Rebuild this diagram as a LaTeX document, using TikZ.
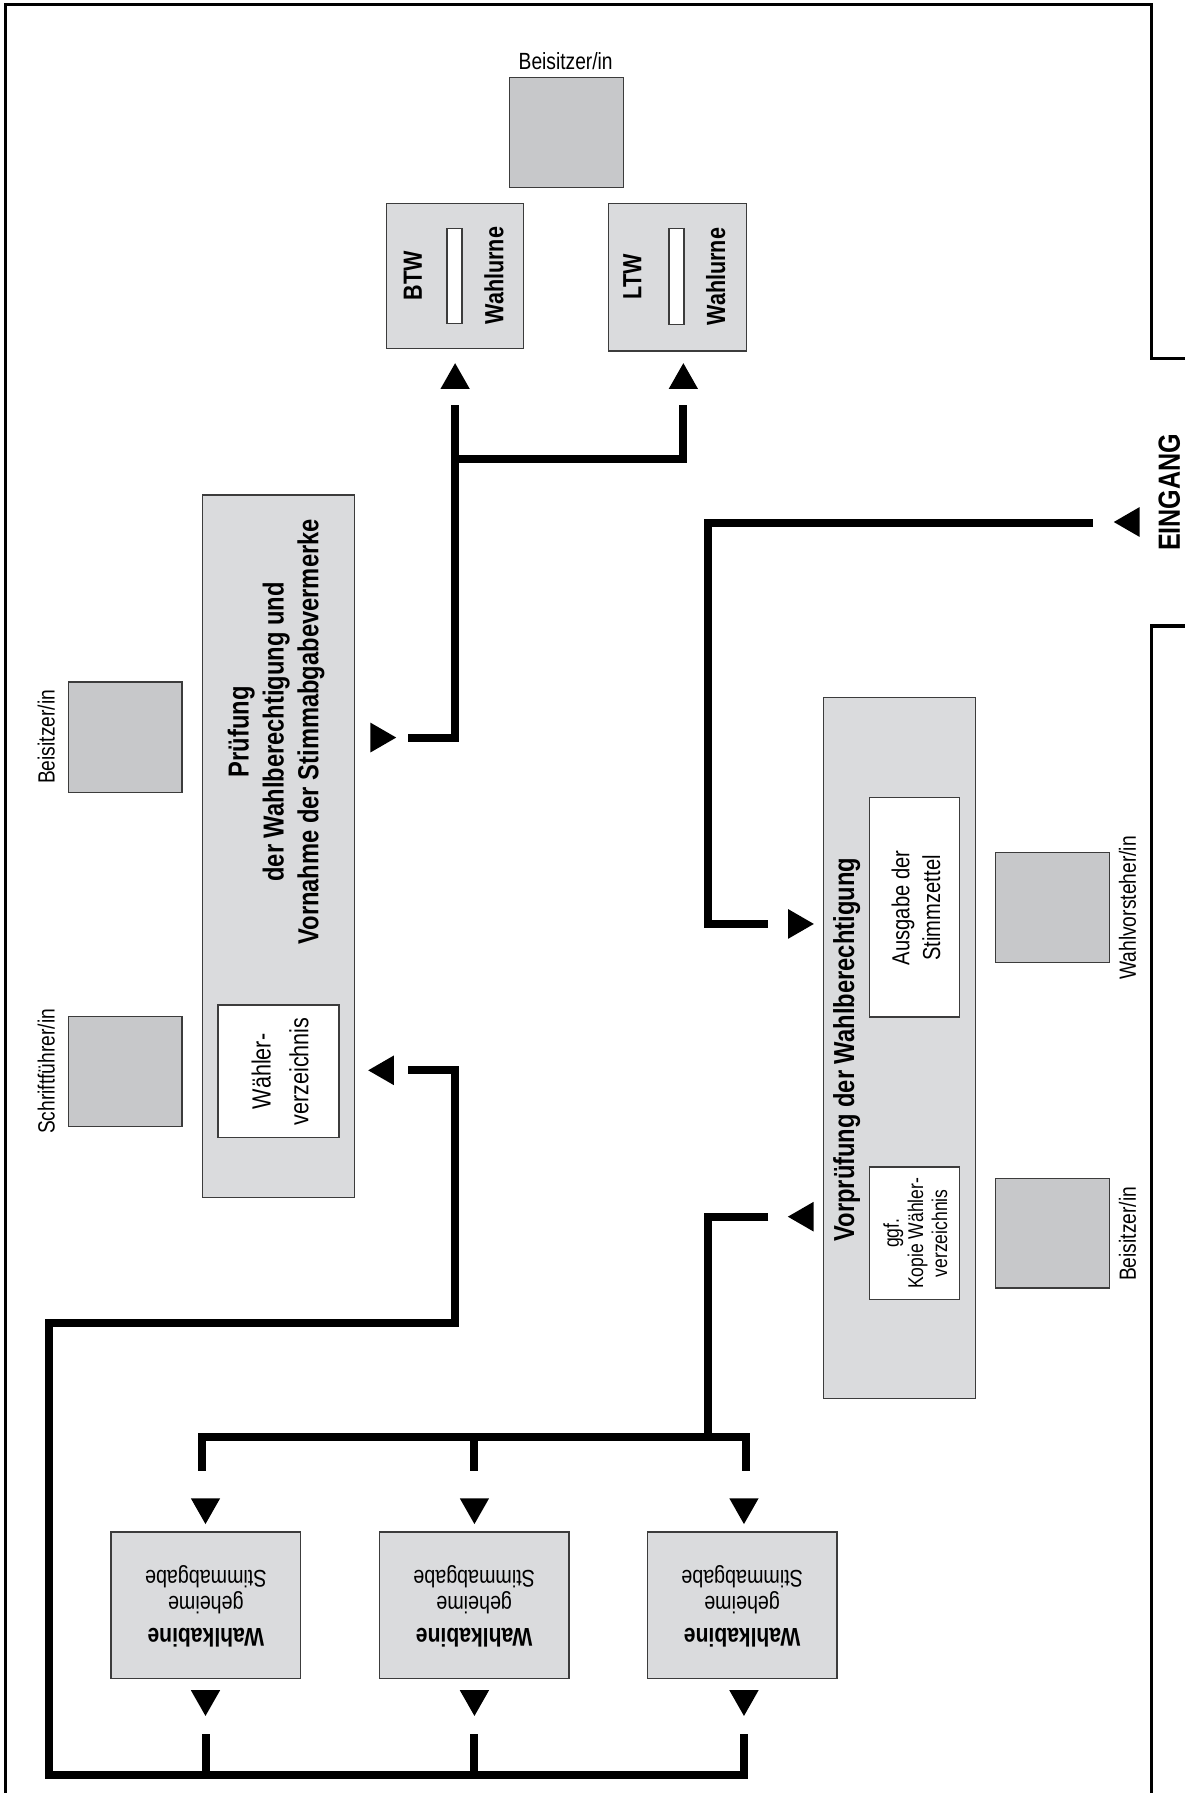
\documentclass[tikz,border=0pt]{standalone}
\usepackage{fontspec}
\setmainfont{Liberation Sans}
\newfontfamily\narrow[FakeStretch=0.82]{Liberation Sans}
\definecolor{boxlight}{RGB}{218,219,221}
\definecolor{boxdark}{RGB}{199,200,202}
\definecolor{boxedge}{RGB}{60,60,60}
\tikzset{
  frameline/.style={line width=2.8pt, line cap=butt, line join=miter},
  conn/.style={line width=7pt, line cap=butt, line join=miter},
  lbox/.style={draw=boxedge, fill=boxlight, line width=1.2pt, inner sep=0pt},
  dbox/.style={draw=boxedge, fill=boxdark, line width=1.2pt, inner sep=0pt},
  wbox/.style={draw=boxedge, fill=white, line width=1.2pt, inner sep=0pt},
  lbl/.style={inner sep=0pt, font=\narrow\fontsize{20.5}{24}\selectfont},
  txt/.style={inner sep=0pt, align=center},
  triup/.pic={\fill (0,0) -- (-12.8,22.5) -- (12.8,22.5) -- cycle;},
  tridown/.pic={\fill (0,0) -- (-12.8,-22.5) -- (12.8,-22.5) -- cycle;},
  trileft/.pic={\fill (0,0) -- (22.5,-13) -- (22.5,13) -- cycle;},
  triright/.pic={\fill (0,0) -- (-22.5,-13) -- (-22.5,13) -- cycle;},
}
\begin{document}
\begin{tikzpicture}[x=1pt,y=-1pt]
\useasboundingbox (0,0) rectangle (1036,1568);

% frame
\draw[frameline] (4.5,1568) -- (4.5,4) -- (1007,4) -- (1007,313.5) -- (1036,313.5);
\draw[frameline] (1036,547.5) -- (1007,547.5) -- (1007,1568);
\node[inner sep=0pt, rotate=90, font=\narrow\bfseries\fontsize{26.8}{30}\selectfont] (eingang) at (1022.5,430.5) {EINGANG};

% top Beisitzer and urns
\node[lbl] (beiTopL) at (494.7,53.5) {Beisitzer/in};
\node[dbox, minimum width=99.5pt, minimum height=96pt] (beiTop) at (495.3,116) {};

\node[lbox, minimum width=120pt, minimum height=127pt] (btw) at (398,241.5) {};
\node[wbox, minimum width=13pt, minimum height=83pt] (btwSlot) at (397.5,241.5) {};
\node[inner sep=0pt, rotate=90, font=\narrow\bfseries\fontsize{23}{26}\selectfont] (btwT) at (361,241) {BTW};
\node[inner sep=0pt, rotate=90, font=\narrow\bfseries\fontsize{23}{26}\selectfont] (btwU) at (432,241) {Wahlurne};

\node[lbox, minimum width=121pt, minimum height=129pt] (ltw) at (592.5,242.5) {};
\node[wbox, minimum width=13pt, minimum height=84pt] (ltwSlot) at (591.5,242) {};
\node[inner sep=0pt, rotate=90, font=\narrow\bfseries\fontsize{23}{26}\selectfont] (ltwT) at (553,242) {LTW};
\node[inner sep=0pt, rotate=90, font=\narrow\bfseries\fontsize{23}{26}\selectfont] (ltwU) at (626,242) {Wahlurne};

% left side
\node[dbox, minimum width=99pt, minimum height=96.5pt] (beiL) at (109.5,644.7) {};
\node[lbl, rotate=90] (beiLT) at (40.5,644.5) {Beisitzer/in};
\node[dbox, minimum width=99pt, minimum height=96.5pt] (schrift) at (109.5,937) {};
\node[lbl, rotate=90] (schriftT) at (40.5,937) {Schriftführer/in};

\node[lbox, minimum width=132.5pt, minimum height=614pt] (pruef) at (243.5,740) {};
\node[txt, rotate=90, font=\narrow\bfseries\fontsize{25.3}{30.5}\selectfont] (pruefT) at (241.5,640) {Prüfung\\der Wahlberechtigung und\\Vornahme der Stimmabgabevermerke};
\node[wbox, minimum width=106pt, minimum height=116pt] (wverz) at (243.5,937) {};
\node[txt, rotate=90, font=\narrow\fontsize{23}{33}\selectfont] (wverzT) at (245,937) {Wähler-\\verzeichnis};

% right side
\node[lbox, minimum width=133pt, minimum height=613pt] (vorp) at (786.5,916.5) {};
\node[inner sep=0pt, rotate=90, font=\narrow\bfseries\fontsize{25.3}{30}\selectfont] (vorpT) at (740.5,918) {Vorprüfung der Wahlberechtigung};
\node[wbox, minimum width=78.5pt, minimum height=192pt] (ausg) at (799.7,793.5) {};
\node[txt, rotate=90, font=\narrow\fontsize{21.5}{27}\selectfont] (ausgT) at (801,794) {Ausgabe der\\Stimmzettel};
\node[wbox, minimum width=78.5pt, minimum height=116pt] (kopie) at (799.7,1078.5) {};
\node[txt, rotate=90, font=\narrow\fontsize{18.7}{21}\selectfont] (kopieT) at (800.5,1078.5) {ggf.\\Kopie Wähler-\\verzeichnis};

\node[dbox, minimum width=99.4pt, minimum height=96pt] (vorst) at (920.3,793.5) {};
\node[lbl, rotate=90] (vorstT) at (986,794) {Wahlvorsteher/in};
\node[dbox, minimum width=99.4pt, minimum height=96pt] (beiR) at (920.3,1078.5) {};
\node[lbl, rotate=90] (beiRT) at (986,1079) {Beisitzer/in};

% booths
\foreach \n/\x in {1/180,2/414.7,3/649}{
  \node[lbox, minimum width=166pt, minimum height=128.4pt] (kab\n) at (\x,1403.8) {};
  \node[txt, rotate=180, font=\narrow\fontsize{21}{22.7}\selectfont] (kab\n T) at (\x,1405) {{\bfseries\fontsize{22.5}{22.7}\selectfont Wahlkabine}\\[5pt]geheime\\Stimmabgabe};
}

% connector coordinates
\coordinate (pA) at (357,645);
\coordinate (btwIn) at (398,354);
\coordinate (ltwIn) at (597.6,354);
\coordinate (jU) at (398,401);
\coordinate (wA) at (357,936);
\coordinate (wB) at (398,1157);
\coordinate (wC) at (43,1552);
\coordinate (k1out) at (180,1516);
\coordinate (k2out) at (414.9,1516);
\coordinate (k3out) at (650.6,1516);
\coordinate (vB) at (672,1064);
\coordinate (jK) at (619,1257);
\coordinate (k1in) at (177,1286);
\coordinate (k2in) at (414.9,1286);
\coordinate (k3in) at (652,1286);
\coordinate (eIn) at (956,457);
\coordinate (jE) at (619,457);
\coordinate (vA) at (672,808);

% connectors
\draw[conn] (pA) -| (btwIn);
\draw[conn] (jU) -| (ltwIn);
\draw[conn] (wA) -| (wB) -| (wC) -| (k3out);
\draw[conn] (k1out |- wC) -- (k1out);
\draw[conn] (k2out |- wC) -- (k2out);
\draw[conn] (vB) -| (jK);
\draw[conn] (k1in) |- (k3in |- jK) -- (k3in);
\draw[conn] (k2in |- jK) -- (k2in);
\draw[conn] (eIn) -- (jE) |- (vA);

% arrowheads
\pic at (398,317.6) {triup};
\pic at (597.6,317.6) {triup};
\pic at (346.5,645) {triright};
\pic at (322,936) {trileft};
\pic at (711.7,808) {triright};
\pic at (689,1064) {trileft};
\pic at (974,456.5) {trileft};
\foreach \x in {179.7,414.9,650.6}{
  \pic at (\x,1332.8) {tridown};
  \pic at (\x,1500.6) {tridown};
}
\end{tikzpicture}
\end{document}
